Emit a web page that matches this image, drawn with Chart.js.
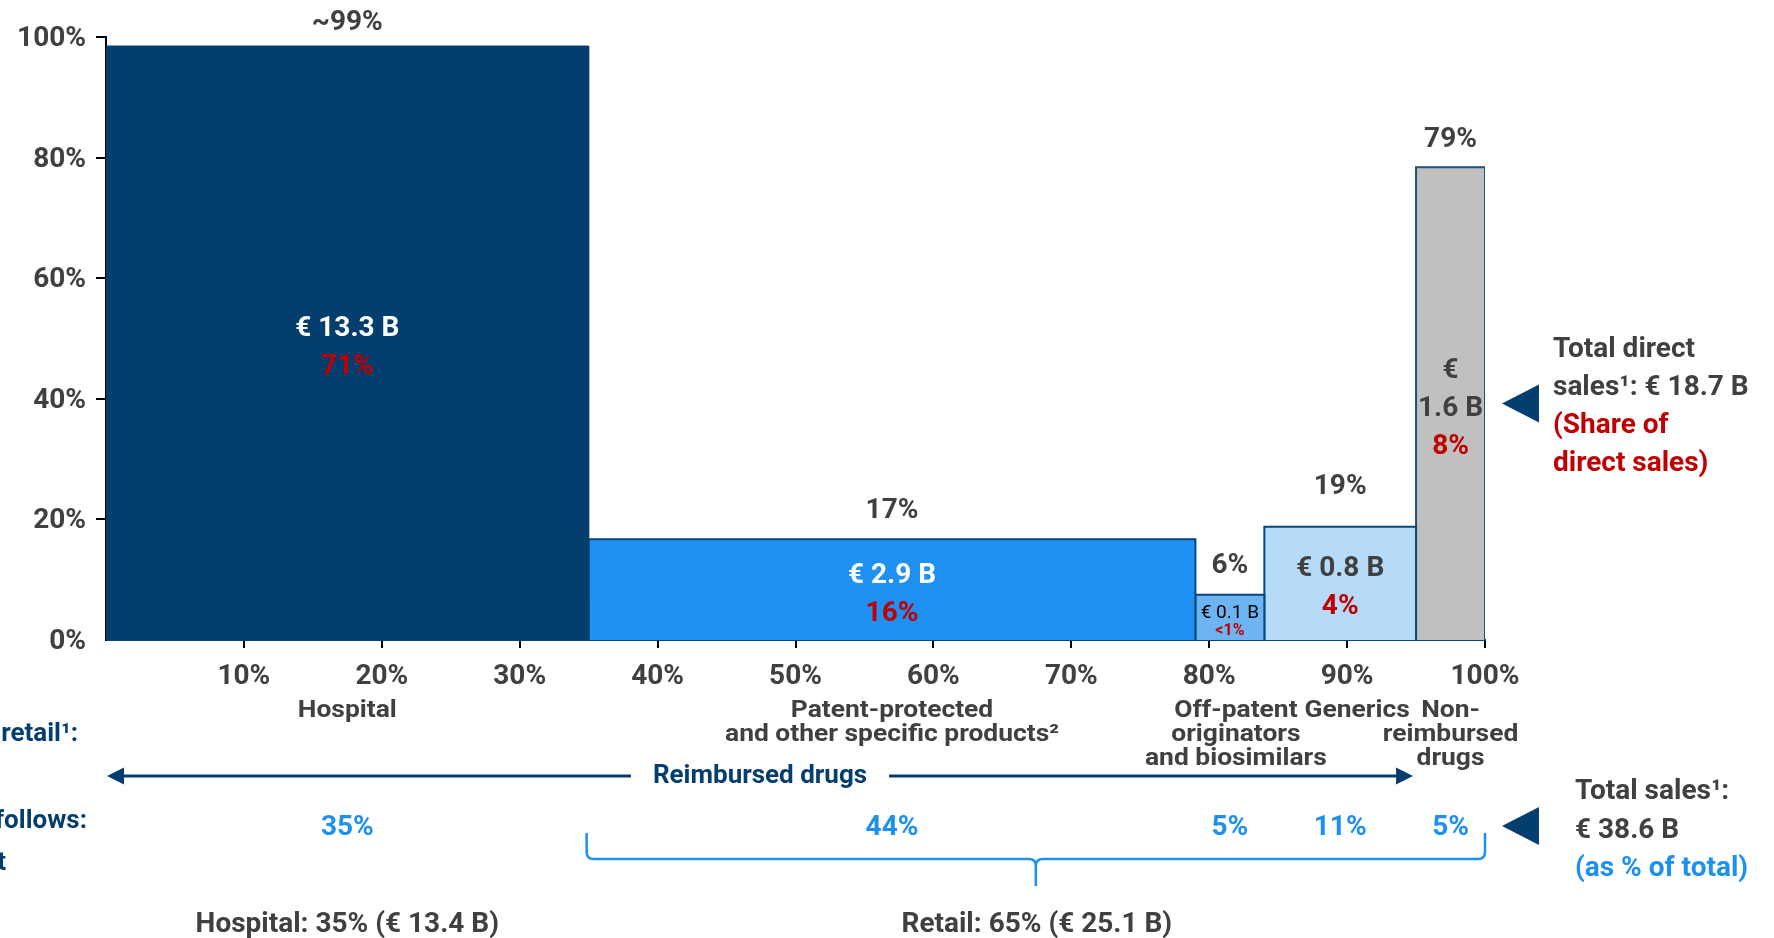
<!DOCTYPE html>
<html>
<head>
<meta charset="utf-8">
<script src="https://cdn.jsdelivr.net/npm/chart.js@4.4.1/dist/chart.umd.min.js"></script>
<style>
html,body{margin:0;padding:0;background:#ffffff;}
#wrap{width:1774px;height:938px;position:relative;}
</style>
</head>
<body>
<div id="wrap"><canvas id="c"></canvas></div>
<script>
// ---------- DATA ----------
const categories = [
  ['Hospital'],
  ['Patent-protected', 'and other specific products²'],
  ['Off-patent', 'originators', 'and biosimilars'],
  ['Generics'],
  ['Non-', 'reimbursed', 'drugs']
];
const shareOfTotalSales = [35, 44, 5, 11, 5];            // bar widths (% of total sales)
const shareOfTotalLabels = ['35%', '44%', '5%', '11%', '5%'];
const directSalesShare = [98.5, 16.7, 7.5, 18.8, 78.4];   // bar heights (% direct sales)
const directSalesShareLabels = ['~99%', '17%', '6%', '19%', '79%'];
const directSalesValue = [['€ 13.3 B'], ['€ 2.9 B'], ['€ 0.1 B'], ['€ 0.8 B'], ['€', '1.6 B']];
const shareOfDirectSales = ['71%', '16%', '<1%', '4%', '8%'];
const xTickValues = [10, 20, 30, 40, 50, 60, 70, 80, 90, 100];
const yTickValues = [0, 20, 40, 60, 80, 100];
const channelLabels = ['Hospital: 35% (€ 13.4 B)', 'Retail: 65% (€ 25.1 B)'];
const channelSpans = [[0, 35], [35, 100]];
const reimbursedLabel = 'Reimbursed drugs';
const reimbursedSpan = [0, 95];
const directSalesNote = ['Total direct', 'sales¹: € 18.7 B', '(Share of', 'direct sales)'];
const totalSalesNote = ['Total sales¹:', '€ 38.6 B', '(as % of total)'];
const leftCutText = ['retail¹:', 'follows:', 't'];

// ---------- STYLE ----------
const NAVY = '#043E6F', GRAY = '#404040', RED = '#C00000', LBLUE = '#1E90F0';
const FONT = 'Roboto';
const barFill = ['#043E6F', '#1F91F2', '#6CB5F2', '#B5DBF9', '#C0C0C0'];
const barBorder = ['#043E6F', '#0B4478', '#0B4478', '#0B4478', '#1F4E79'];
const valueColor = ['#ffffff', '#ffffff', '#000000', GRAY, GRAY];
const topGap = [26, 31, 32, 43, 30];
const catShift = [0, 0, 6, 17, 0];

// cumulative edges
const edges = [0];
shareOfTotalSales.forEach(w => edges.push(edges[edges.length - 1] + w));

const datasets = directSalesShare.map((h, i) => ({
  data: [
    {x: edges[i], y: 0}, {x: edges[i], y: h},
    {x: edges[i + 1], y: h}, {x: edges[i + 1], y: 0}
  ],
  backgroundColor: barFill[i],
  borderColor: barBorder[i],
  borderWidth: i === 0 ? 1 : 2,
  fill: 'origin',
  pointRadius: 0,
  tension: 0,
  borderJoinStyle: 'miter'
}));

const DY = 3; // visual vertical centring offset for text
function txt(ctx, s, x, y, font, color, align, sx) {
  ctx.save();
  ctx.font = font;
  ctx.fillStyle = color;
  ctx.textAlign = align || 'center';
  ctx.textBaseline = 'middle';
  ctx.translate(x, y + DY);
  ctx.scale(sx || 1, 1);
  ctx.fillText(s, 0, 0);
  ctx.restore();
}

const annotations = {
  id: 'annotations',
  afterDraw(chart) {
    const ctx = chart.ctx;
    const xs = chart.scales.x, ys = chart.scales.y;
    const bottom = chart.chartArea.bottom;
    const B28 = 'bold 28px ' + FONT;
    ctx.save();

    // labels above & inside bars
    directSalesShare.forEach((h, i) => {
      const cx = xs.getPixelForValue((edges[i] + edges[i + 1]) / 2);
      const top = ys.getPixelForValue(h);
      txt(ctx, directSalesShareLabels[i], cx, top - topGap[i], B28, GRAY);
      const lines = directSalesValue[i].concat([shareOfDirectSales[i]]);
      const small = i === 2;
      const lh = small ? 18 : 38;
      const mid = (top + bottom) / 2 + 2;
      let y0 = mid - (lines.length - 1) * lh / 2;
      lines.forEach((s, k) => {
        const isShare = k === lines.length - 1;
        const font = small ? (isShare ? 'bold 16px ' + FONT : '400 19px ' + FONT) : B28;
        txt(ctx, s, cx, y0 + k * lh, font, isShare ? RED : valueColor[i]);
      });
      // category labels
      categories[i].forEach((s, k) => {
        txt(ctx, s, cx + catShift[i], bottom + 68 + k * 24, 'bold 24px ' + FONT, GRAY, 'center', 1.1);
      });
      // share of total
      txt(ctx, shareOfTotalLabels[i], cx, bottom + 185, B28, LBLUE);
    });

    // Reimbursed drugs arrow
    const ay = bottom + 136;
    const ax0 = xs.getPixelForValue(reimbursedSpan[0]) + 1;
    const ax1 = xs.getPixelForValue(reimbursedSpan[1]) - 3;
    const ac = (ax0 + ax1) / 2;
    ctx.font = 'bold 26px ' + FONT;
    const tw = ctx.measureText(reimbursedLabel).width;
    ctx.strokeStyle = NAVY; ctx.lineWidth = 3;
    ctx.beginPath();
    ctx.moveTo(ax0 + 10, ay); ctx.lineTo(ac - tw / 2 - 22, ay);
    ctx.moveTo(ac + tw / 2 + 22, ay); ctx.lineTo(ax1 - 10, ay);
    ctx.stroke();
    ctx.fillStyle = NAVY;
    ctx.beginPath(); ctx.moveTo(ax0, ay); ctx.lineTo(ax0 + 17, ay - 8.5); ctx.lineTo(ax0 + 17, ay + 8.5); ctx.closePath(); ctx.fill();
    ctx.beginPath(); ctx.moveTo(ax1, ay); ctx.lineTo(ax1 - 17, ay - 8.5); ctx.lineTo(ax1 - 17, ay + 8.5); ctx.closePath(); ctx.fill();
    txt(ctx, reimbursedLabel, ac, ay - 3, 'bold 26px ' + FONT, NAVY);

    // retail brace
    const bx0 = xs.getPixelForValue(channelSpans[1][0]) - 2;
    const bx1 = xs.getPixelForValue(channelSpans[1][1]);
    const bm = (bx0 + bx1) / 2;
    const yTop = bottom + 193, yMid = bottom + 219, yTip = bottom + 246, r = 7;
    ctx.strokeStyle = LBLUE; ctx.lineWidth = 2.5;
    ctx.beginPath();
    ctx.moveTo(bx0, yTop); ctx.lineTo(bx0, yMid - r);
    ctx.quadraticCurveTo(bx0, yMid, bx0 + r, yMid);
    ctx.lineTo(bm - r, yMid);
    ctx.quadraticCurveTo(bm, yMid, bm, yMid + r);
    ctx.lineTo(bm, yTip);
    ctx.moveTo(bm, yMid + r);
    ctx.quadraticCurveTo(bm, yMid, bm + r, yMid);
    ctx.lineTo(bx1 - r, yMid);
    ctx.quadraticCurveTo(bx1, yMid, bx1, yMid - r);
    ctx.lineTo(bx1, yTop);
    ctx.stroke();

    // channel labels
    channelLabels.forEach((s, k) => {
      const cx = xs.getPixelForValue((channelSpans[k][0] + channelSpans[k][1]) / 2);
      txt(ctx, s, cx, bottom + 282, B28, GRAY);
    });

    // triangles
    function tri(yc) {
      ctx.fillStyle = NAVY;
      ctx.beginPath();
      ctx.moveTo(xs.right + 17, yc);
      ctx.lineTo(xs.right + 54, yc - 19);
      ctx.lineTo(xs.right + 54, yc + 19);
      ctx.closePath(); ctx.fill();
    }
    const nrTop = ys.getPixelForValue(directSalesShare[4]);
    const nrMid = (nrTop + bottom) / 2;
    tri(nrMid);
    tri(bottom + 186);

    // right notes
    const nx = xs.right + 68;
    directSalesNote.forEach((s, k) => {
      txt(ctx, s, nx, nrMid - 57 + k * 38, B28, k < 2 ? GRAY : RED, 'left');
    });
    totalSalesNote.forEach((s, k) => {
      txt(ctx, s, xs.right + 90, bottom + 149 + k * 38.5, B28, k < 2 ? GRAY : LBLUE, 'left');
    });

    // cut-off text at the left edge
    txt(ctx, leftCutText[0], 78, bottom + 91, 'bold 26px ' + FONT, NAVY, 'right');
    txt(ctx, leftCutText[1], 87, bottom + 178, 'bold 26px ' + FONT, NAVY, 'right');
    txt(ctx, leftCutText[2], 6, bottom + 220, 'bold 26px ' + FONT, NAVY, 'right');

    ctx.restore();
  }
};

new Chart(document.getElementById('c'), {
  type: 'line',
  data: { datasets: datasets },
  options: {
    responsive: true,
    maintainAspectRatio: false,
    animation: false,
    events: [],
    layout: { padding: { left: 0, right: 289, top: 37, bottom: 228 } },
    plugins: { legend: { display: false }, tooltip: { enabled: false } },
    scales: {
      x: {
        type: 'linear', min: 0, max: 100, z: 1,
        afterFit: s => { s.height = 70; },
        afterBuildTicks: s => { s.ticks = xTickValues.map(v => ({value: v})); },
        grid: { drawOnChartArea: false, drawTicks: true, tickLength: 8, color: '#000', lineWidth: 2 },
        border: { display: true, color: '#0B4478', width: 2 },
        ticks: {
          padding: 12, color: GRAY, font: { family: FONT, size: 28, weight: 'bold' },
          callback: v => v + '%', maxRotation: 0, autoSkip: false
        }
      },
      y: {
        min: 0, max: 100,
        afterFit: s => { s.width = 106; },
        afterBuildTicks: s => { s.ticks = yTickValues.map(v => ({value: v})); },
        grid: {
          drawOnChartArea: false, drawTicks: true, tickLength: 10, lineWidth: 2,
          color: c => (c.tick && c.tick.value === 0) ? 'rgba(0,0,0,0)' : '#000'
        },
        border: { display: true, color: '#000', width: 2 },
        ticks: {
          padding: 10, labelOffset: 2, color: GRAY, font: { family: FONT, size: 28, weight: 'bold' },
          callback: v => v + '%'
        }
      }
    }
  },
  plugins: [annotations]
});
</script>
</body>
</html>
